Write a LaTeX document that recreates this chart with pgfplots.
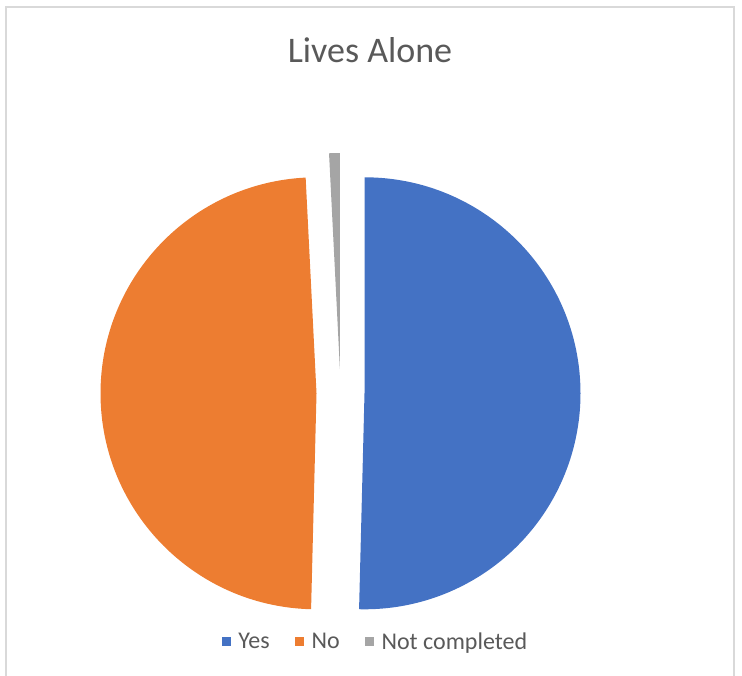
\documentclass[border=0pt]{standalone}
\usepackage{pgfplots}
\pgfplotsset{compat=1.18}
\usepackage{pgfplotstable}
\usepackage{fontspec}
\setmainfont{Carlito}
\definecolor{yesblue}{HTML}{4472C4}
\definecolor{noorange}{HTML}{ED7D31}
\definecolor{ncgray}{HTML}{A5A5A5}
\definecolor{txtgray}{HTML}{595959}
\definecolor{bordergray}{HTML}{D9D9D9}
\pgfplotstableread{
label value
Yes 63
No 61
NotCompleted 1
}\piedata
\begin{document}
\begin{tikzpicture}
\pgfplotstablegetelem{0}{value}\of\piedata \let\vA\pgfplotsretval
\pgfplotstablegetelem{1}{value}\of\piedata \let\vB\pgfplotsretval
\pgfplotstablegetelem{2}{value}\of\piedata \let\vC\pgfplotsretval
% geometry in pixels of the 742x675 picture (1px = 0.75pt)
\pgfmathsetmacro\cx{340.5}\pgfmathsetmacro\cy{675-393}
\pgfmathsetmacro\rr{216*0.75}\pgfmathsetmacro\dd{24}
\pgfmathsetmacro\tot{\vA+\vB+\vC}
\pgfmathsetmacro\aS{90}
\pgfmathsetmacro\aA{\aS-360*(\vA/\tot)}
\pgfmathsetmacro\aB{\aA-360*(\vB/\tot)}
\pgfmathsetmacro\aC{\aB-360*(\vC/\tot)}
\pgfmathsetmacro\mA{(\aS+\aA)/2}\pgfmathsetmacro\mB{(\aA+\aB)/2}\pgfmathsetmacro\mC{(\aB+\aC)/2}
\pgfmathsetmacro\pAx{\cx+\dd*cos(\mA)}\pgfmathsetmacro\pAy{\cy+\dd*sin(\mA)}
\pgfmathsetmacro\pBx{\cx+\dd*cos(\mB)}\pgfmathsetmacro\pBy{\cy+\dd*sin(\mB)}
\pgfmathsetmacro\pCx{\cx+\dd*cos(\mC)}\pgfmathsetmacro\pCy{\cy+\dd*sin(\mC)}
\begin{axis}[
  name=ax, x=0.75pt, y=0.75pt,
  xmin=0, xmax=742, ymin=0, ymax=675,
  hide axis, clip=false,
  legend columns=-1,
  legend image code/.code={\fill (0pt,-3.4pt) rectangle (6.8pt,3.4pt); \path (11pt,0pt);},
  legend style={at={(0.506,0.049)}, anchor=center, draw=none, fill=none,
    font=\fontsize{18}{21}\selectfont, text=txtgray,
    /tikz/every even column/.append style={column sep=18pt},
    nodes={inner sep=1.2pt}},
]
\draw[bordergray, line width=0.9pt] (axis cs:6,-10) -- (axis cs:6,668) -- (axis cs:734,668) -- (axis cs:734,-10);
\fill[yesblue] (axis cs:\pAx,\pAy) -- ++(\aS:\rr pt) arc[start angle=\aS, end angle=\aA, radius=\rr pt] -- cycle;
\fill[noorange] (axis cs:\pBx,\pBy) -- ++(\aA:\rr pt) arc[start angle=\aA, end angle=\aB, radius=\rr pt] -- cycle;
\fill[ncgray] (axis cs:\pCx,\pCy) -- ++(\aB:\rr pt) arc[start angle=\aB, end angle=\aC, radius=\rr pt] -- cycle;
\node[anchor=base, text=txtgray, font=\fontsize{27}{32}\selectfont, inner sep=0pt] at (axis cs:370,612) {Lives Alone};
\addlegendimage{fill=yesblue, draw=none}\addlegendentry{Yes}
\addlegendimage{fill=noorange, draw=none}\addlegendentry{No}
\addlegendimage{fill=ncgray, draw=none}\addlegendentry{Not completed}
\end{axis}
\pgfresetboundingbox
\useasboundingbox (ax.south west) rectangle (ax.north east);
\end{tikzpicture}
\end{document}
